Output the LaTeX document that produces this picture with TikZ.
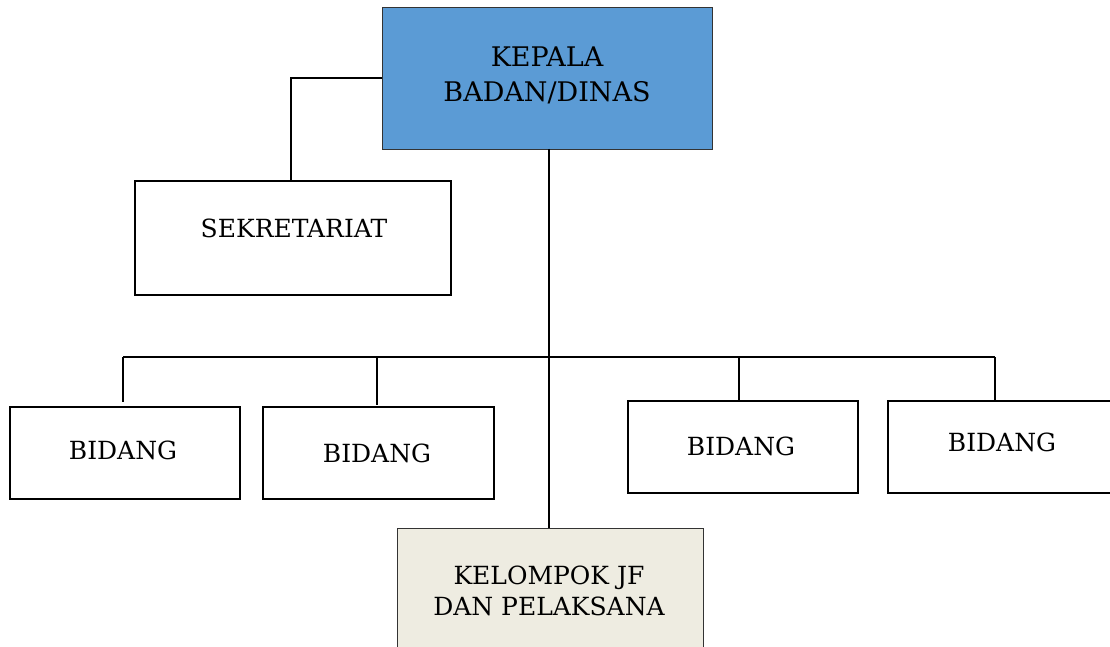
\documentclass[tikz,border=0pt]{standalone}
\usepackage{fontspec}
\setmainfont{DejaVu Serif}
\definecolor{headblue}{HTML}{5B9BD5}
\definecolor{paper}{HTML}{EEECE1}
\begin{document}
\begin{tikzpicture}[x=1pt,y=-1pt,
  unit/.style={draw=black,line width=1.8pt,fill=white,inner sep=0pt,anchor=north west},
  lbl/.style={font=\fontsize{25}{31}\selectfont,align=center},
  link/.style={draw=black,line width=1.4pt}]
\useasboundingbox (0,0) rectangle (1110,647);
\clip (0,0) rectangle (1110,647);

% boxes (corner, size)
\node[unit,draw=black!80,line width=1pt,fill=headblue,minimum width=330pt,minimum height=142pt] (kepala) at (382,7) {};
\node[unit,minimum width=316pt,minimum height=114pt] (sekr) at (134,180) {};
\node[unit,minimum width=230pt,minimum height=92pt] (b1) at (9,406) {};
\node[unit,minimum width=231pt,minimum height=92pt] (b2) at (262,406) {};
\node[unit,minimum width=230pt,minimum height=92pt] (b3) at (627,400) {};
\node[unit,minimum width=240pt,minimum height=92pt] (b4) at (887,400) {};
\node[unit,draw=black!80,line width=1pt,fill=paper,minimum width=306pt,minimum height=140pt] (jf) at (397,528) {};

% labels
\node[lbl,font=\fontsize{27}{35}\selectfont] (tKepala) at (547,75) {KEPALA\\BADAN/DINAS};
\node[lbl] (tSekr) at (294,228) {SEKRETARIAT};
\node[lbl] (tB1) at (123,450) {BIDANG};
\node[lbl] (tB2) at (377,453) {BIDANG};
\node[lbl] (tB3) at (741,446) {BIDANG};
\node[lbl] (tB4) at (1002,442) {BIDANG};
\node[lbl,font=\fontsize{25}{31}\selectfont] (tJf) at (549,591) {KELOMPOK JF\\DAN PELAKSANA};

% connector points
\coordinate (sekrTurn) at (291,78);
\coordinate (spine) at (549,149);
\coordinate (busL) at (123,357);
\coordinate (busR) at (995,357);
\coordinate (busB2) at (377,357);
\coordinate (busB3) at (739,357);
\coordinate (d1) at (123,402);
\coordinate (d2) at (377,405);

% connectors
\draw[link] (kepala.west |- sekrTurn) -- (sekrTurn) -- (sekrTurn |- sekr.north);
\draw[link] (spine) -- (spine |- jf.north);
\draw[link] (busL) -- (busR);
\draw[link] (busL) -- (d1);
\draw[link] (busB2) -- (d2);
\draw[link] (busB3) -- (busB3 |- b3.north);
\draw[link] (busR) -- (busR |- b4.north);
\end{tikzpicture}
\end{document}
